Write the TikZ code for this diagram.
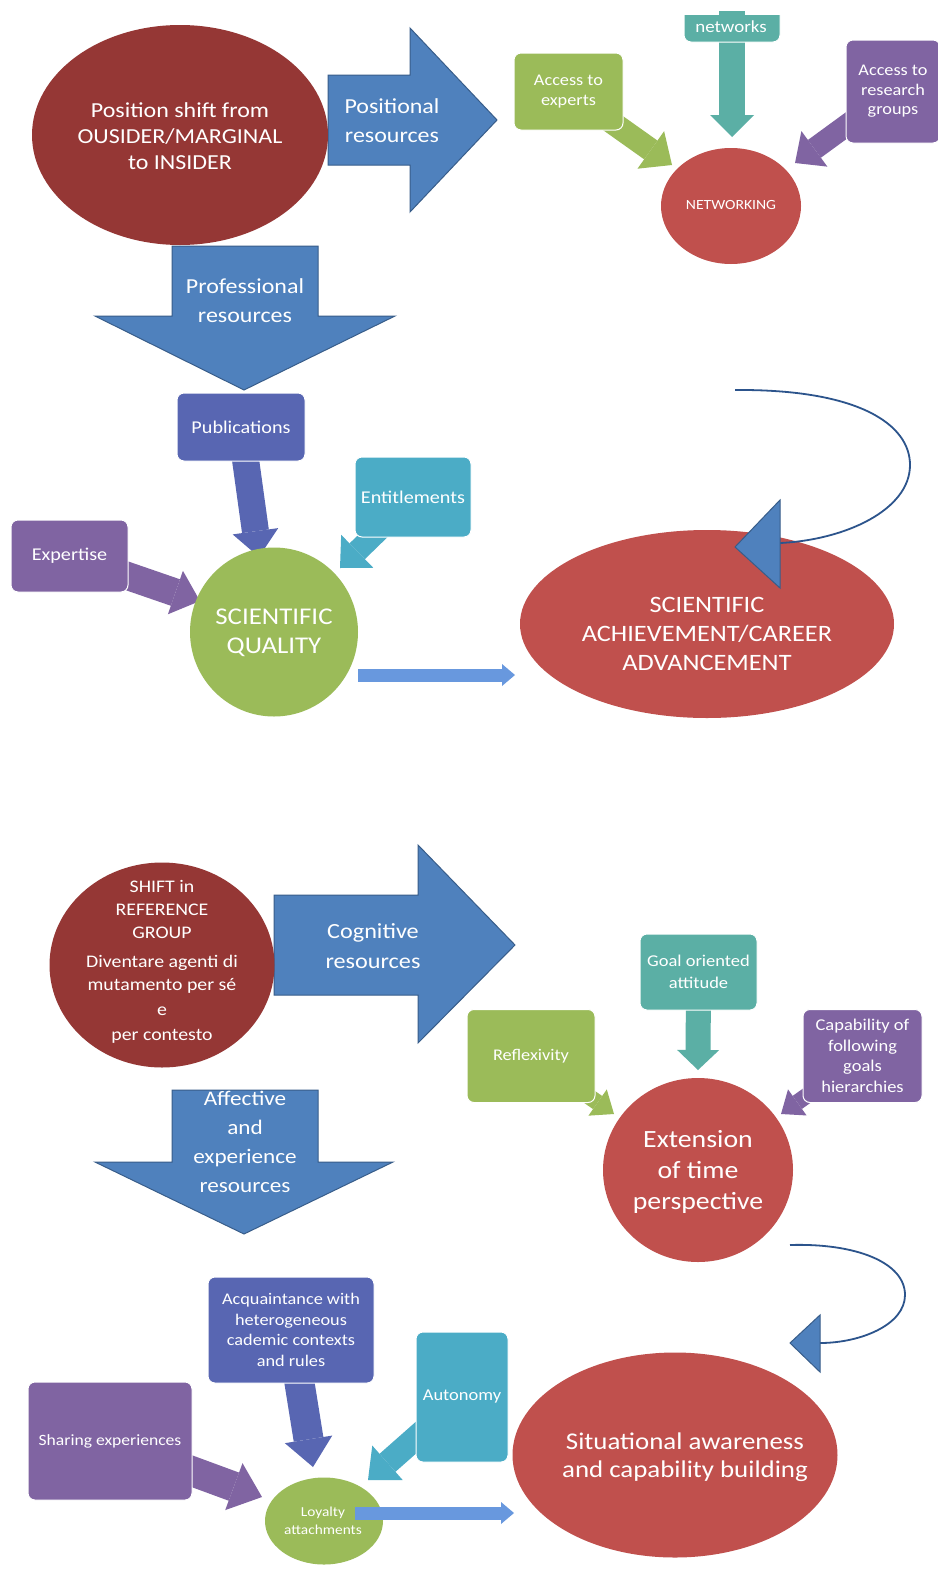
\documentclass[tikz,border=0pt]{standalone}
\usepackage{fontspec}
\setmainfont{Carlito}[FakeStretch=1.12]
\usetikzlibrary{arrows.meta,shapes.geometric}

\definecolor{cMaroon}{RGB}{149,55,53}
\definecolor{cBrick}{RGB}{192,80,77}
\definecolor{cSteel}{RGB}{79,129,189}
\definecolor{cSteelDark}{RGB}{56,93,138}
\definecolor{cOlive}{RGB}{155,187,89}
\definecolor{cViolet}{RGB}{128,100,162}
\definecolor{cIndigo}{RGB}{88,102,178}
\definecolor{cAqua}{RGB}{75,172,198}
\definecolor{cSea}{RGB}{91,175,165}
\definecolor{cSky}{RGB}{104,152,222}
\definecolor{cCurve}{RGB}{44,84,140}

\newcommand{\fsz}[2]{\fontsize{#1pt}{#2pt}\selectfont}

\pgfdeclarelayer{paper}
\pgfdeclarelayer{links}
\pgfsetlayers{paper,links,main}

\tikzset{
  lbl/.style={text=white, align=center, inner sep=0pt},
  card/.style={rounded corners=7pt, draw=white, line width=1pt, inner sep=2pt,
               align=center, text=white},
  blob/.style={ellipse, inner sep=0pt},
  blockarrow/.style={fill=cSteel, draw=cSteelDark, line width=1pt, line join=miter},
  fatlink/.style n args={3}{line width=#1,
      -{Triangle[width=#2, length=#3, line width=0pt]}},
  lightlink/.style={cSky, line width=13pt,
      -{Triangle[width=22pt, length=13pt, line width=0pt]}},
  curvelink/.style={draw=cCurve, line width=1.8pt},
}

\begin{document}
\begin{tikzpicture}[x=1pt, y=-1pt]
\begin{pgfonlayer}{paper}
  \fill[white] (0,0) rectangle (937,1574);
\end{pgfonlayer}
\useasboundingbox (0,0) rectangle (937,1574);

% ================= upper diagram =================
% positional and professional resources
\path[blockarrow] (328,75) -- (410,75) -- (410,28) -- (497,120) -- (410,212)
  -- (410,165) -- (328,165) -- cycle;
\node[lbl, font=\fsz{21.4}{29}] (posres) at (392,121) {Positional\\resources};
\path[blockarrow] (172,246) -- (318,246) -- (318,316) -- (395,316) -- (244,390)
  -- (95,316) -- (172,316) -- cycle;
\node[lbl, font=\fsz{21.4}{29}] (profres) at (245,301) {Professional\\resources};

\node[blob, fill=cMaroon, minimum width=296pt, minimum height=220pt] (insider) at (180,135) {};
\node[lbl, font=\fsz{21.4}{26}] (insidertext) at (180,136)
  {Position shift from\\OUSIDER/MARGINAL\\to INSIDER};

% networking cluster
\node[blob, fill=cBrick, minimum width=140pt, minimum height=116pt] (netw) at (731,206) {};
\node[lbl, font=\fsz{14}{16}] (netwtext) at (731,205) {NETWORKING};
\begin{scope}
  \clip (600,15) rectangle (820,60);
  \node[card, fill=cSea, minimum width=96pt, minimum height=62pt] (nets) at (732,11) {};
\end{scope}
\node[lbl, font=\fsz{16.9}{20}] (netstext) at (731,27) {networks};
\node[card, fill=cOlive, minimum width=109pt, minimum height=77pt, font=\fsz{16.3}{20.5}]
  (expt) at (568.5,91.5) {Access to\\experts};
\node[card, fill=cViolet, minimum width=94pt, minimum height=103pt, font=\fsz{16.3}{19.5}]
  (resg) at (893,91.5) {Access to\\research\\groups};

% scientific quality cluster
\node[card, fill=cIndigo, minimum width=128pt, minimum height=68pt, font=\fsz{18}{22}]
  (pubs) at (241,427) {Publications};
\node[card, fill=cAqua, minimum width=116pt, minimum height=80pt, font=\fsz{18}{22}]
  (ent) at (413,497) {Entitlements};
\node[card, fill=cViolet, minimum width=117pt, minimum height=72pt, font=\fsz{18}{22}]
  (expe) at (69.5,556) {Expertise};
\node[blob, fill=cOlive, minimum width=168pt, minimum height=169pt] (sq) at (274,632) {};
\node[lbl, font=\fsz{24}{29}] (sqtext) at (274,633) {SCIENTIFIC\\QUALITY};

% career advancement with feedback loop
\node[blob, fill=cBrick, minimum width=374pt, minimum height=188pt] (ach) at (707,624) {};
\node[lbl, font=\fsz{23.5}{29}] (achtext) at (707,634)
  {SCIENTIFIC\\ACHIEVEMENT/CAREER\\ADVANCEMENT};
\coordinate (loopA0) at (735,390);
\coordinate (loopA1) at (780,543);
\draw[curvelink] (loopA0) .. controls (860,389) and (910,425) .. (910,465)
  .. controls (910,510) and (845,540) .. (loopA1);
\path[blockarrow] (735,547) -- (780,500) -- (780,588) -- cycle;

\coordinate (sqout) at (358,675);
\coordinate (achin) at (515,675);
\draw[lightlink] (sqout) -- (achin);

% ================= lower diagram =================
\path[blockarrow] (274,895) -- (418,895) -- (418,845) -- (515,945) -- (418,1043)
  -- (418,995) -- (274,995) -- cycle;
\node[lbl, font=\fsz{21.6}{30}] (cogres) at (373,946) {Cognitive\\resources};
\path[blockarrow] (172,1090) -- (318,1090) -- (318,1162) -- (393,1162) -- (244,1234)
  -- (95,1162) -- (172,1162) -- cycle;
\node[lbl, font=\fsz{20.7}{29}] (affres) at (245,1142)
  {Affective\\and\\experience\\resources};

\node[blob, fill=cMaroon, minimum width=225pt, minimum height=205pt] (shift) at (162,965) {};
\node[lbl, font=\fsz{17.7}{23}] (shifttext) at (162,962)
  {SHIFT in\\REFERENCE\\GROUP\\[6pt]Diventare agenti di\\mutamento per sé\\[2pt]e\\[2pt]per contesto};

% time perspective cluster
\node[card, fill=cOlive, minimum width=128pt, minimum height=93pt, font=\fsz{16.3}{20}]
  (refl) at (531,1056) {Reflexivity};
\node[card, fill=cSea, minimum width=117pt, minimum height=76pt, font=\fsz{16.5}{21.7}]
  (goal) at (698.5,972) {Goal oriented\\attitude};
\node[card, fill=cViolet, minimum width=119pt, minimum height=93pt, font=\fsz{16.5}{20.5}]
  (capa) at (862.5,1056) {Capability of\\following\\goals\\hierarchies};
\node[blob, fill=cBrick, minimum width=190pt, minimum height=184pt] (ext) at (698,1170) {};
\node[lbl, font=\fsz{24.8}{31}] (exttext) at (698,1172) {Extension\\of time\\perspective};

% situational awareness with feedback loop
\node[blob, fill=cBrick, minimum width=325pt, minimum height=205pt] (sit) at (675,1455) {};
\node[lbl, font=\fsz{24}{28}] (sittext) at (685,1457)
  {Situational awareness\\and capability building};
\coordinate (loopB0) at (790,1245);
\coordinate (loopB1) at (820,1343);
\draw[curvelink] (loopB0) .. controls (855,1243) and (905,1262) .. (905,1295)
  .. controls (905,1325) and (860,1343) .. (loopB1);
\path[blockarrow] (790,1343) -- (820,1315) -- (820,1372) -- cycle;

% loyalty cluster
\node[card, fill=cIndigo, minimum width=166pt, minimum height=106pt, font=\fsz{16.3}{20.5}]
  (acq) at (291,1330) {Acquaintance with\\heterogeneous\\cademic contexts\\and rules};
\node[card, fill=cAqua, minimum width=92pt, minimum height=130pt, font=\fsz{16.5}{20}]
  (auto) at (462,1397) {Autonomy};
\node[card, fill=cViolet, minimum width=164pt, minimum height=118pt, font=\fsz{15.7}{20}]
  (share) at (110,1441) {Sharing experiences};
\node[blob, fill=cOlive, minimum width=118pt, minimum height=87pt] (loyal) at (324,1521) {};
\node[lbl, font=\fsz{13.7}{18}] (loyaltext) at (323,1521) {Loyalty\\attachments};

\coordinate (loyout) at (355,1513);
\coordinate (sitin) at (514,1513);
\draw[lightlink] (loyout) -- (sitin);

% ================= thick connectors (behind the boxes) =================
\coordinate (toNetA) at (672,165);
\coordinate (toNetB) at (732,137);
\coordinate (toNetC) at (795,163);
\coordinate (toSqA) at (259,557);
\coordinate (toSqB) at (340,568);
\coordinate (toSqC) at (200,601);
\coordinate (toExtA) at (614,1114);
\coordinate (toExtB) at (698,1070);
\coordinate (toExtC) at (781,1114);
\coordinate (toLoyA) at (313,1467);
\coordinate (toLoyB) at (368,1480);
\coordinate (toLoyC) at (262,1497);
\begin{pgfonlayer}{links}
  \draw[fatlink={23pt}{46pt}{26pt}, cOlive] (expt.center) -- (toNetA);
  \draw[fatlink={26pt}{44pt}{22pt}, cSea] (nets.center) -- (toNetB);
  \draw[fatlink={22pt}{44pt}{24pt}, cViolet] (resg.center) -- (toNetC);
  \draw[fatlink={27pt}{46pt}{26pt}, cIndigo] (pubs.center) -- (toSqA);
  \draw[fatlink={22pt}{46pt}{24pt}, cAqua] (ent.center) -- (toSqB);
  \draw[fatlink={28pt}{46pt}{26pt}, cViolet] (expe.center) -- (toSqC);
  \draw[fatlink={16pt}{32pt}{20pt}, cOlive] (refl.center) -- (toExtA);
  \draw[fatlink={25pt}{42pt}{20pt}, cSea] (goal.center) -- (toExtB);
  \draw[fatlink={16pt}{32pt}{20pt}, cViolet] (capa.center) -- (toExtC);
  \draw[fatlink={30pt}{48pt}{28pt}, cIndigo] (acq.center) -- (toLoyA);
  \draw[fatlink={24pt}{46pt}{26pt}, cAqua] (auto.center) -- (toLoyB);
  \draw[fatlink={30pt}{50pt}{30pt}, cViolet] (share.center) -- (toLoyC);
\end{pgfonlayer}
\end{tikzpicture}
\end{document}
